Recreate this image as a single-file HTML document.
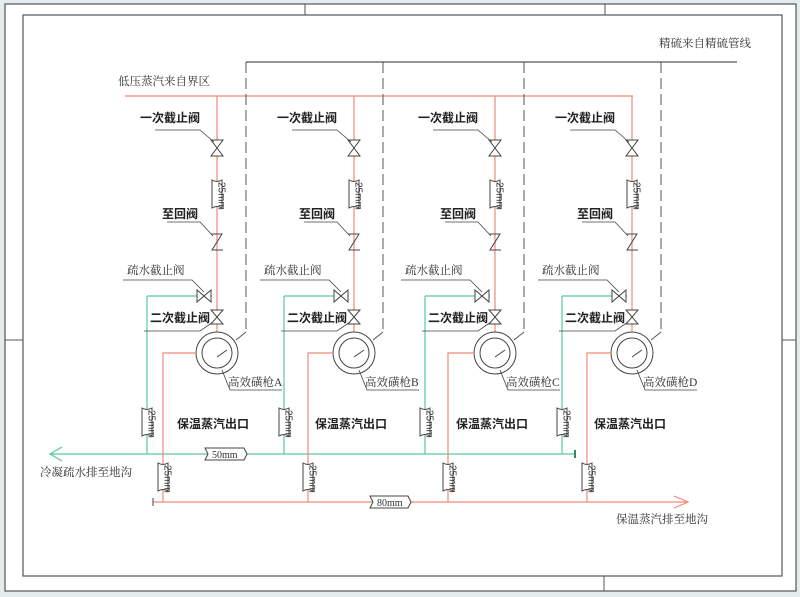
<!DOCTYPE html>
<html><head><meta charset="utf-8"><style>
body{margin:0;background:#e4ecee;}
svg{display:block;font-family:"Liberation Sans","Noto Sans CJK SC",sans-serif;}
.b{font-size:12px;font-weight:bold;fill:#222}
.n{font-size:11.5px;fill:#333;font-family:"Liberation Serif","Noto Serif CJK SC",serif}
</style></head><body>
<svg width="800" height="597" viewBox="0 0 800 597" xmlns="http://www.w3.org/2000/svg">
<defs>
<g id="red25"><path d="M-5,-14 Q0,-11 5,-14 L5,14 Q0,11 -5,14 Z" fill="#fff" stroke="#444" stroke-width="1"/><text transform="rotate(90)" x="-12" y="-1.5" font-size="10" fill="#333" font-family="Liberation Sans">25mm</text></g>
<g id="br">
 <line x1="0" y1="96" x2="0" y2="340" stroke="#f08a78" stroke-width="1.2"/>
 <path d="M-6,140 L6,140 L-6,156 L6,156 Z" fill="#fff" stroke="#444"/>
 <use href="#red25" x="0" y="194"/>
 <path d="M-6,234 L5,234 L-5,250 L6,250" fill="none" stroke="#444"/>
 <line x1="-5" y1="296" x2="-70" y2="296" stroke="#5cc79a" stroke-width="1.2"/>
 <line x1="-70" y1="296" x2="-70" y2="454" stroke="#5cc79a" stroke-width="1.2"/>
 <use href="#red25" x="-70" y="422"/>
 <path d="M-20,290 L-20,302 L-6,290 L-6,302 Z" fill="#fff" stroke="#444"/>
 <path d="M-6,310 L6,310 L-6,324 L6,324 Z" fill="#fff" stroke="#444"/>
 <circle cx="0" cy="353" r="21" fill="#fff" stroke="#444"/>
 <circle cx="0" cy="353" r="15" fill="none" stroke="#444"/>
 <line x1="0" y1="357" x2="10" y2="350" stroke="#444"/>
 <line x1="29" y1="62" x2="29" y2="332" stroke="#555" stroke-dasharray="11,5"/>
 <line x1="29" y1="332" x2="19" y2="340" stroke="#555"/>
 <polyline points="-62,130 -17,130 -3,142" fill="none" stroke="#444" stroke-width=".8"/>
 <polyline points="-50,222 -17,222 -4,236" fill="none" stroke="#444" stroke-width=".8"/>
 <polyline points="-94,280 -25,280 -13,292" fill="none" stroke="#444" stroke-width=".8"/>
 <polyline points="-73,331 -17,331 -4,322" fill="none" stroke="#444" stroke-width=".8"/>
 <polyline points="5,370 13,390 65,390" fill="none" stroke="#444" stroke-width=".8"/>
 <text class="b" x="-77" y="122">一次截止阀</text>
 <text class="b" x="-55" y="218">至回阀</text>
 <text class="n" x="-90" y="274">疏水截止阀</text>
 <text class="b" x="-67" y="322">二次截止阀</text>
</g>
</defs>
<rect x="5" y="4" width="791" height="587" fill="#fff" stroke="#555" stroke-width="1.2"/>
<rect x="23" y="15" width="759" height="561" fill="#fff" stroke="#555" stroke-width="1.2"/>
<line x1="305" y1="4" x2="305" y2="15" stroke="#555"/>
<line x1="605" y1="4" x2="605" y2="15" stroke="#555"/>
<line x1="604" y1="576" x2="604" y2="591" stroke="#555"/>
<line x1="782" y1="340" x2="796" y2="340" stroke="#555"/>
<line x1="5" y1="340" x2="23" y2="340" stroke="#555"/>
<text class="n" x="659" y="47">精硫来自精硫管线</text>
<text class="n" x="118" y="85">低压蒸汽来自界区</text>
<line x1="246" y1="62" x2="737" y2="62" stroke="#555" stroke-width="1.2"/>
<line x1="125" y1="96" x2="633" y2="96" stroke="#f08a78" stroke-width="1.2"/>
<line x1="50" y1="454" x2="575" y2="454" stroke="#5cc79a" stroke-width="1.2"/>
<polyline points="62,447 50,454 62,461" fill="none" stroke="#5cc79a" stroke-width="1.2"/>
<line x1="575" y1="450" x2="575" y2="458" stroke="#2a8a60" stroke-width="2"/>
<line x1="153" y1="502" x2="688" y2="502" stroke="#f08a78" stroke-width="1.2"/>
<polyline points="674,496 688,502 674,508" fill="none" stroke="#f08a78" stroke-width="1.2"/>
<line x1="153" y1="498" x2="153" y2="506" stroke="#444"/>
<g transform="translate(217,0)"><use href="#br"/></g>
<g transform="translate(354,0)"><use href="#br"/></g>
<g transform="translate(495,0)"><use href="#br"/></g>
<g transform="translate(632,0)"><use href="#br"/></g>
<g stroke="#f08a78" stroke-width="1.2" fill="none">
<polyline points="196,353 163,353 163,502"/>
<polyline points="333,353 308,353 308,502"/>
<polyline points="474,353 448,353 448,502"/>
<polyline points="611,353 587,353 587,502"/>
</g>
<use href="#red25" x="163" y="477"/>
<use href="#red25" x="308" y="477"/>
<use href="#red25" x="448" y="477"/>
<use href="#red25" x="587" y="477"/>
<path d="M205,448 L244,448 L247,454 L244,460 L205,460 L208,454 Z" fill="#fff" stroke="#444"/>
<text x="212" y="458" font-size="10" fill="#333" font-family="Liberation Serif">50mm</text>
<path d="M370,496 L408,496 L411,502 L408,508 L370,508 L373,502 Z" fill="#fff" stroke="#444"/>
<text x="377" y="506" font-size="10" fill="#333" font-family="Liberation Serif">80mm</text>
<text class="n" x="228" y="386">高效磺枪A</text>
<text class="n" x="365" y="386">高效磺枪B</text>
<text class="n" x="506" y="386">高效磺枪C</text>
<text class="n" x="643" y="386">高效磺枪D</text>
<text class="b" x="177" y="428">保温蒸汽出口</text>
<text class="b" x="315" y="428">保温蒸汽出口</text>
<text class="b" x="456" y="428">保温蒸汽出口</text>
<text class="b" x="594" y="428">保温蒸汽出口</text>
<text class="n" x="40" y="476">冷凝疏水排至地沟</text>
<text class="n" x="616" y="523">保温蒸汽排至地沟</text>
</svg>
</body></html>
